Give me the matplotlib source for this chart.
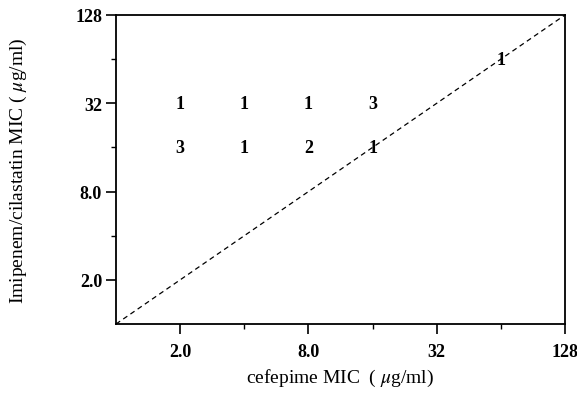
import matplotlib.pyplot as plt
from matplotlib.ticker import NullFormatter

# cefepime MIC (x) vs imipenem/cilastatin MIC (y), number of isolates
cefepime = [2, 4, 8, 16, 2, 4, 8, 16, 64]
imipenem = [32, 32, 32, 32, 16, 16, 16, 16, 64]
counts = [1, 1, 1, 3, 3, 1, 2, 1, 1]

major_ticks = [2, 8, 32, 128]
major_labels = ['2.0', '8.0', '32', '128']
minor_ticks = [4, 16, 64]

plt.rcParams['font.family'] = ['Liberation Serif', 'DejaVu Serif']
plt.rcParams['mathtext.fontset'] = 'stix'

fig = plt.figure(figsize=(5.77, 4.06), dpi=100)
ax = fig.add_axes([116 / 577, 1 - 325 / 406, 449 / 577, 309 / 406])

ax.set_xscale('log', base=2)
ax.set_yscale('log', base=2)
ax.set_xlim(1, 128)
ax.set_ylim(1, 128)

# line of identity
ax.plot([1, 128], [1, 128], color='black', linestyle=(0, (4, 3)), linewidth=0.9)

for x, y, c in zip(cefepime, imipenem, counts):
    ax.text(x, y, str(c), ha='center', va='center', fontsize=13, fontweight='bold')

ax.set_xticks(major_ticks)
ax.set_xticklabels(major_labels, fontsize=13, fontweight='bold')
ax.set_yticks(major_ticks)
ax.set_yticklabels(major_labels, fontsize=13, fontweight='bold')
ax.set_xticks(minor_ticks, minor=True)
ax.set_yticks(minor_ticks, minor=True)
ax.xaxis.set_minor_formatter(NullFormatter())
ax.yaxis.set_minor_formatter(NullFormatter())
ax.tick_params(which='major', direction='out', length=7, width=1.2)
ax.tick_params(which='minor', direction='out', length=3.5, width=1)
ax.tick_params(axis='x', which='major', pad=7)
ax.tick_params(axis='y', which='major', pad=3)

for s in ax.spines.values():
    s.set_linewidth(1.3)

ax.set_xlabel('cefepime MIC  ( $\\mu$g/ml)', fontsize=14)
ax.set_ylabel('Imipenem/cilastatin MIC ( $\\mu$g/ml)', fontsize=14)
ax.xaxis.set_label_coords((340 - 116) / 449, -(378 - 325) / 309)
ax.yaxis.set_label_coords(-(116 - 18) / 449, 0.5)
ax.xaxis.label.set_va('center')
ax.yaxis.label.set_va('center')

plt.savefig('out.png', dpi=100)
